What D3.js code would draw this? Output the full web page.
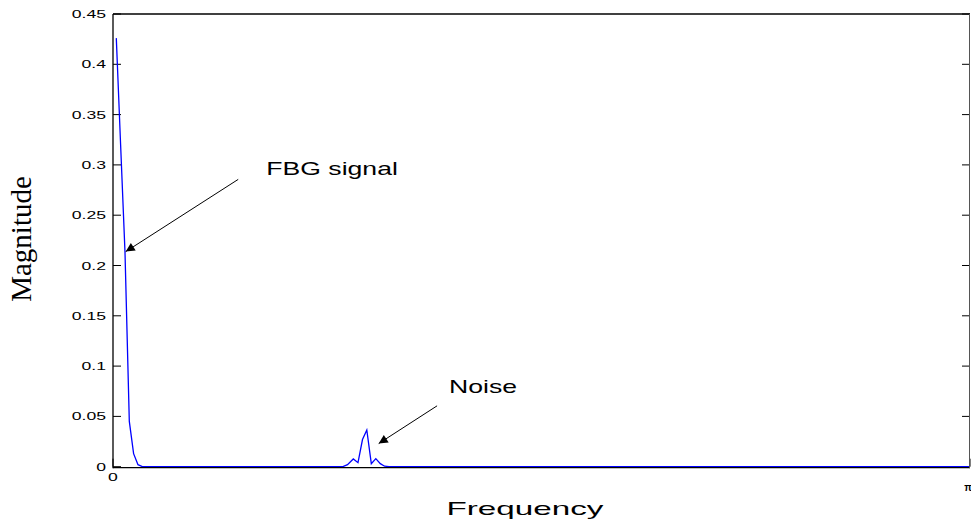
<!DOCTYPE html>
<html>
<head>
<meta charset="utf-8">
<script src="https://cdnjs.cloudflare.com/ajax/libs/d3/7.8.5/d3.min.js"></script>
<style>
  body { margin: 0; background: #fff; }
  svg { display: block; }
</style>
</head>
<body>
<div id="chart"></div>
<script>
// spectrum, frequency in rad (0..pi)
var freq = [0.0121, 0.0279, 0.0440, 0.0598, 0.0755, 0.0916, 0.1074,
            0.8431, 0.8596, 0.8809, 0.8981, 0.9146, 0.9304, 0.9469, 0.9634, 0.9799, 0.9956, 1.0118,
            Math.PI];
var magnitude = [0.426, 0.32, 0.213, 0.045, 0.013, 0.002, 0,
                 0, 0.002, 0.0077, 0.004, 0.027, 0.0365, 0.003, 0.008, 0.003, 0.0005, 0,
                 0];
var yTicks = [0, 0.05, 0.1, 0.15, 0.2, 0.25, 0.3, 0.35, 0.4, 0.45];
var xTicks = [0, Math.PI];
var xTickLabels = ["0", "\u03c0"];

// annotations: label pos, arrow start, arrow tip (data units)
var notes = [
  {label: "FBG signal", tx: 0.562, ty: 0.2895, fx: 0.459, fy: 0.2856, px: 0.0466, py: 0.2138},
  {label: "Noise",      tx: 1.232, ty: 0.0729, fx: 1.188, fy: 0.0605, px: 0.974, py: 0.0230}
];

var W = 971, H = 521;
var mLeft = 113, mRight = 970, mTop = 14, mBottom = 466.7;

var svg = d3.select("#chart").append("svg")
    .attr("width", W)
    .attr("height", H);

var x = d3.scaleLinear().domain([0, Math.PI]).range([mLeft, mRight]);
var y = d3.scaleLinear().domain([0, 0.45]).range([mBottom, mTop]);

svg.append("defs").append("marker")
    .attr("id", "head")
    .attr("viewBox", "0 0 10 10")
    .attr("refX", 10).attr("refY", 5)
    .attr("markerWidth", 13).attr("markerHeight", 9)
    .attr("markerUnits", "userSpaceOnUse")
    .attr("orient", "auto")
  .append("path")
    .attr("d", "M0,0 L10,5 L0,10 z")
    .attr("fill", "#000");

// ticks (inward, both sides)
var tickLen = 8;
svg.selectAll("line.ytl").data(yTicks).enter().append("line")
    .attr("x1", mLeft).attr("x2", mLeft + tickLen)
    .attr("y1", function(d) { return y(d); }).attr("y2", function(d) { return y(d); })
    .attr("stroke", "#000").attr("stroke-width", 1);
svg.selectAll("line.ytr").data(yTicks).enter().append("line")
    .attr("x1", mRight - tickLen).attr("x2", mRight)
    .attr("y1", function(d) { return y(d); }).attr("y2", function(d) { return y(d); })
    .attr("stroke", "#000").attr("stroke-width", 1);
svg.selectAll("line.xtb").data(xTicks).enter().append("line")
    .attr("x1", function(d) { return x(d); }).attr("x2", function(d) { return x(d); })
    .attr("y1", mBottom).attr("y2", mBottom - tickLen)
    .attr("stroke", "#000").attr("stroke-width", 1);

// spectrum line
var line = d3.line()
    .x(function(d, i) { return x(freq[i]); })
    .y(function(d) { return y(d); });

svg.append("path")
    .datum(magnitude)
    .attr("d", line)
    .attr("fill", "none")
    .attr("stroke", "#0000ff")
    .attr("stroke-width", 1.3);

// box
svg.append("line").attr("x1", mLeft).attr("x2", mRight).attr("y1", mTop).attr("y2", mTop)
    .attr("stroke", "#000").attr("stroke-width", 1.5);
svg.append("line").attr("x1", mLeft).attr("x2", mRight).attr("y1", mBottom + 1).attr("y2", mBottom + 1)
    .attr("stroke", "#000").attr("stroke-width", 1.2);
svg.append("line").attr("x1", mLeft).attr("x2", mLeft).attr("y1", mTop).attr("y2", mBottom + 1.5)
    .attr("stroke", "#000").attr("stroke-width", 1.3);
svg.append("line").attr("x1", mRight - 0.5).attr("x2", mRight - 0.5).attr("y1", mTop).attr("y2", mBottom + 1.5)
    .attr("stroke", "#555").attr("stroke-width", 1);

// tick labels
svg.selectAll("text.yl").data(yTicks).enter().append("text")
    .attr("transform", function(d) { return "translate(" + (mLeft - 7) + "," + (y(d) + 4) + ") scale(1.6,1)"; })
    .attr("text-anchor", "end")
    .style("font-family", "'Liberation Sans', Arial, sans-serif")
    .style("font-size", "11px")
    .attr("fill", "#000")
    .text(function(d) { return String(d); });

svg.append("text")
    .attr("transform", "translate(" + x(xTicks[0]) + ",481) scale(1.6,1)")
    .attr("text-anchor", "middle")
    .style("font-family", "'Liberation Sans', Arial, sans-serif")
    .style("font-size", "11px")
    .text(xTickLabels[0]);
svg.append("text")
    .attr("transform", "translate(" + (x(xTicks[1]) - 2) + ",491)")
    .attr("text-anchor", "middle")
    .style("font-family", "'Liberation Sans', Arial, sans-serif")
    .style("font-size", "10px")
    .style("font-weight", "bold")
    .text(xTickLabels[1]);

// axis labels
svg.append("text")
    .attr("transform", "translate(525,515) scale(1.75,1)")
    .attr("text-anchor", "middle")
    .style("font-family", "'Liberation Sans', Arial, sans-serif")
    .style("font-size", "19px")
    .text("Frequency");

svg.append("text")
    .attr("transform", "translate(31,239) rotate(-90)")
    .attr("text-anchor", "middle")
    .style("font-family", "'Liberation Serif', 'Times New Roman', serif")
    .style("font-size", "29px")
    .text("Magnitude");

// annotations
svg.selectAll("line.arrow").data(notes).enter().append("line")
    .attr("x1", function(d) { return x(d.fx); })
    .attr("y1", function(d) { return y(d.fy); })
    .attr("x2", function(d) { return x(d.px); })
    .attr("y2", function(d) { return y(d.py); })
    .attr("stroke", "#000").attr("stroke-width", 1)
    .attr("marker-end", "url(#head)");

svg.selectAll("text.note").data(notes).enter().append("text")
    .attr("transform", function(d) { return "translate(" + x(d.tx) + "," + y(d.ty) + ") scale(1.4,1)"; })
    .style("font-family", "'Liberation Sans', Arial, sans-serif")
    .style("font-size", "19px")
    .text(function(d) { return d.label; });
</script>
</body>
</html>
